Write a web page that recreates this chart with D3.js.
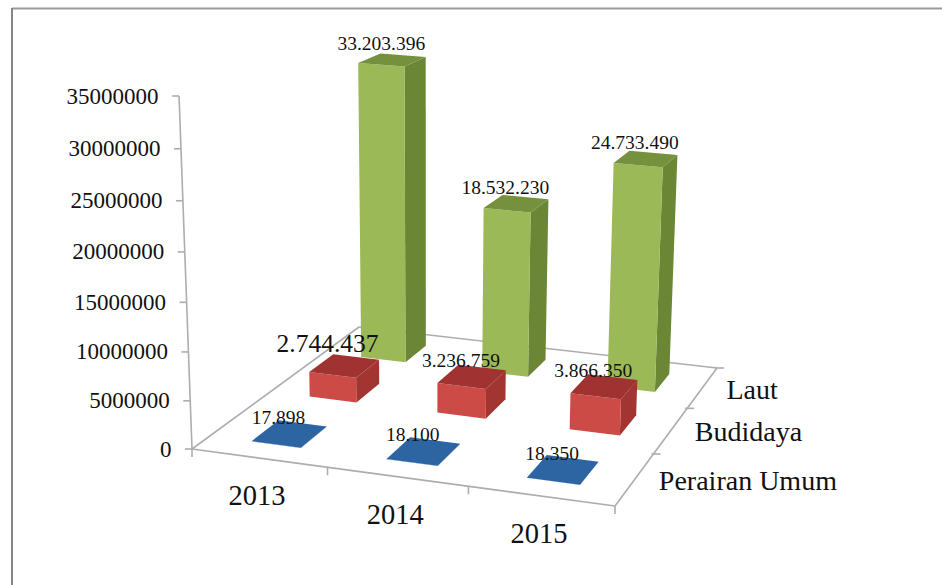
<!DOCTYPE html>
<html>
<head>
<meta charset="utf-8">
<script src="https://d3js.org/d3.v7.min.js"></script>
<style>
  html, body { margin: 0; background: #fff; }
  text { font-family: "Liberation Serif", serif; fill: #111; }
</style>
</head>
<body>
<div class="chart"></div>
<script>
// Data
var years = ["2013", "2014", "2015"];
var seriesNames = ["Perairan Umum", "Budidaya", "Laut"]; // front to back
var perairanUmum = [17898, 18100, 18350];
var budidaya = [2744437, 3236759, 3866350];
var laut = [33203396, 18532230, 24733490];
var seriesValues = [perairanUmum, budidaya, laut];
var valueTicks = [0, 5000000, 10000000, 15000000, 20000000, 25000000, 30000000, 35000000];

var svgWidth = 942;
var svgHeight = 585;

var svg = d3.select(".chart")
  .append("svg")
  .attr("width", svgWidth)
  .attr("height", svgHeight)
  .style("display", "block");

// Outer frame: only the top and left edges show in the picture
svg.append("line")
  .attr("x1", 12).attr("y1", 8.5)
  .attr("x2", svgWidth).attr("y2", 8.5)
  .attr("stroke", "#9a9a9a")
  .attr("stroke-width", 2);
svg.append("line")
  .attr("x1", 12).attr("y1", 8)
  .attr("x2", 12).attr("y2", svgHeight)
  .attr("stroke", "#858585")
  .attr("stroke-width", 2);

// Scales work in "floor units": both floor axes run 0..1, height runs 0..1
var xScale = d3.scaleBand().domain(years).range([0, 1]).paddingInner(0.63).paddingOuter(0.315);
var zScale = d3.scaleBand().domain(seriesNames).range([0, 1]).paddingInner(0.55).paddingOuter(0.275);
var yScale = d3.scaleLinear().domain([0, 35000000]).range([0, 1]);

// Perspective: floor corners on screen -> homography, then a vanishing point for verticals
var c00 = [192, 449], c10 = [615, 506], c11 = [717, 368], c01 = [359, 327];
var vanish = [428, 6878];
var axisTop = 96;

var dx1 = c10[0] - c11[0], dx2 = c01[0] - c11[0], sx = c00[0] - c10[0] + c11[0] - c01[0];
var dy1 = c10[1] - c11[1], dy2 = c01[1] - c11[1], sy = c00[1] - c10[1] + c11[1] - c01[1];
var det = dx1 * dy2 - dx2 * dy1;
var g = (sx * dy2 - dx2 * sy) / det;
var h = (dx1 * sy - sx * dy1) / det;
var a = c10[0] - c00[0] + g * c10[0], b = c01[0] - c00[0] + h * c01[0], c = c00[0];
var d = c10[1] - c00[1] + g * c10[1], e = c01[1] - c00[1] + h * c01[1], f = c00[1];

// height weight chosen so that the top of the value axis lands on axisTop
var lambda = (c00[1] - axisTop) / (axisTop - vanish[1]);

function project(u, v, t) {
  var w = g * u + h * v + 1;
  var px = a * u + b * v + c;
  var py = d * u + e * v + f;
  var k = lambda * t;
  return [(px + k * vanish[0]) / (w + k), (py + k * vanish[1]) / (w + k)];
}

var polygon = d3.line();

function face(pts) {
  return polygon(pts.map(function(p) { return project(p[0], p[1], p[2]); })) + "Z";
}

// Floor and axis lines
var axisColor = "#adadad";
var axes = svg.append("g").attr("fill", "none").attr("stroke", axisColor).attr("stroke-width", 1.6);

axes.append("path").attr("d", polygon([project(0, 0, 0), project(0, 0, 1)]));
axes.append("path").attr("d", polygon([project(0, 0, 0), project(1, 0, 0)]));
axes.append("path").attr("d", polygon([project(1, 0, 0), project(1, 1, 0)]));
axes.append("path").attr("d", polygon([project(0, 0, 0), project(0, 1, 0)]));
axes.append("path").attr("d", polygon([project(0, 1, 0), project(1, 1, 0)]));

// Value axis ticks and labels
valueTicks.forEach(function(tick) {
  var p = project(0, 0, yScale(tick));
  axes.append("path").attr("d", polygon([[p[0] - 7, p[1]], p]));
  svg.append("text")
    .attr("x", p[0] - 20.5)
    .attr("y", p[1] + 7.5)
    .attr("text-anchor", "end")
    .attr("font-size", "23px")
    .text(tick);
});

// Category ticks on the front edge
d3.range(4).forEach(function(i) {
  var p = project(i / 3, 0, 0);
  axes.append("path").attr("d", polygon([p, [p[0], p[1] + 8]]));
});

// Series ticks on the right edge
d3.range(1, 4).forEach(function(i) {
  var p = project(1, i / 3, 0);
  axes.append("path").attr("d", polygon([[p[0] - 2, p[1]], [p[0] + 7, p[1]]]));
});

// Category labels
years.forEach(function(year, i) {
  var p = project((i + 0.5) / 3, 0, 0);
  svg.append("text")
    .attr("x", p[0] - 2)
    .attr("y", p[1] + 47)
    .attr("text-anchor", "middle")
    .attr("font-size", "28.5px")
    .text(year);
});

// Series labels
seriesNames.forEach(function(name, i) {
  var p = project(1, (i + 0.5) / 3, 0);
  svg.append("text")
    .attr("x", p[0] + 24)
    .attr("y", p[1] + 11)
    .attr("font-size", "28px")
    .text(name);
});

// Bars, back row first
var barColors = [
  { front: "#2f6aa8", side: "#27578c", top: "#2d65a3" },
  { front: "#cc4b46", side: "#a23532", top: "#a03331" },
  { front: "#9bb957", side: "#6b8735", top: "#76913d" }
];

var bars = svg.append("g").style("filter", "blur(0.5px)");
var labelFormat = d3.formatLocale({ decimal: ",", thousands: ".", grouping: [3], currency: ["", ""] }).format(",d");
var labels = [];

d3.range(2, -1, -1).forEach(function(s) {
  var name = seriesNames[s];
  var z0 = zScale(name), z1 = z0 + zScale.bandwidth();
  years.forEach(function(year, i) {
    var x0 = xScale(year), x1 = x0 + xScale.bandwidth();
    var t = yScale(seriesValues[s][i]);
    var colors = barColors[s];
    bars.append("path").attr("fill", colors.side)
      .attr("d", face([[x1, z0, 0], [x1, z1, 0], [x1, z1, t], [x1, z0, t]]));
    bars.append("path").attr("fill", colors.front)
      .attr("d", face([[x0, z0, 0], [x1, z0, 0], [x1, z0, t], [x0, z0, t]]));
    bars.append("path").attr("fill", colors.top)
      .attr("d", face([[x0, z0, t], [x1, z0, t], [x1, z1, t], [x0, z1, t]]));
    var p = project((x0 + x1) / 2, (z0 + z1) / 2, t);
    labels.push({ x: p[0], y: p[1], big: s === 1 && i === 0, text: labelFormat(seriesValues[s][i]) });
  });
});

// Data labels on top of the bars, the 2013 Budidaya one is larger in the original
svg.append("g").selectAll("text")
  .data(labels)
  .enter()
  .append("text")
  .attr("x", function(d) { return d.x - (d.big ? 17 : 11); })
  .attr("y", function(d) { return d.y - (d.big ? 14 : 10); })
  .attr("text-anchor", "middle")
  .attr("font-size", function(d) { return d.big ? "25.5px" : "19.5px"; })
  .text(function(d) { return d.text; });
</script>
</body>
</html>
